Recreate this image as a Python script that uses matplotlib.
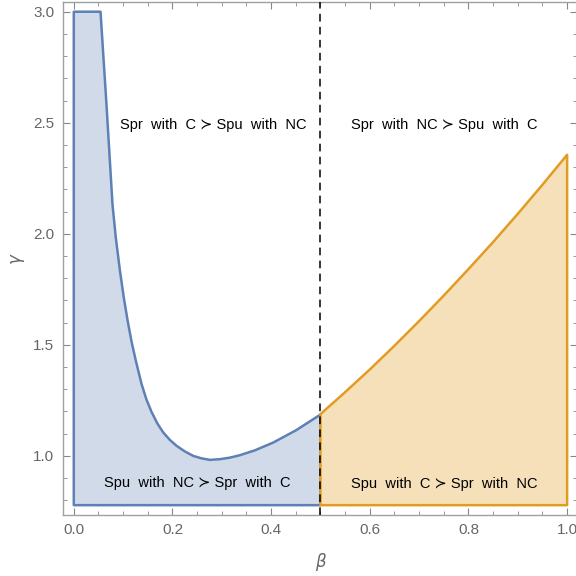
import matplotlib
matplotlib.use("Agg")
import matplotlib.pyplot as plt
from matplotlib.ticker import MultipleLocator, FormatStrFormatter

# data
gamma_floor = 0.778
gamma_cap = 3.0
beta_split = 0.5

blue_beta = [0.0542, 0.0663, 0.0785, 0.0852, 0.0933, 0.1014, 0.1095, 0.1176, 0.1258,
             0.1373, 0.1471, 0.1576, 0.1694, 0.1811, 0.1947, 0.2085, 0.2252, 0.2420,
             0.2586, 0.2759, 0.2961, 0.3164, 0.3367, 0.3671, 0.4043, 0.4503, 0.5000]
blue_gamma = [3.000, 2.581, 2.131, 1.982, 1.838, 1.712, 1.604, 1.509, 1.428,
              1.324, 1.255, 1.198, 1.146, 1.106, 1.072, 1.045, 1.020, 1.000,
              0.989, 0.982, 0.985, 0.992, 1.003, 1.025, 1.060, 1.115, 1.186]

orange_beta = [0.50, 0.55, 0.60, 0.65, 0.70, 0.75, 0.80, 0.85, 0.90, 0.95, 1.00]
orange_gamma = [1.188, 1.287, 1.389, 1.496, 1.607, 1.722, 1.841, 1.963, 2.090, 2.221, 2.356]

labels = ["Spr  with  C \u227b Spu  with  NC", "Spr  with  NC \u227b Spu  with  C",
          "Spu  with  NC \u227b Spr  with  C", "Spu  with  C \u227b Spr  with  NC"]
label_beta = [0.282, 0.751, 0.250, 0.751]
label_gamma = [2.49, 2.49, 0.878, 0.874]

blue_edge = "#5E81B5"
blue_fill = "#D0DAE9"
orange_edge = "#E19C24"
orange_fill = "#F5E0BA"
frame = "#A0A0A0"
tick_txt = "#666666"

fig = plt.figure(figsize=(5.76, 5.76), dpi=100)
ax = fig.add_axes([0.109, 0.106, 0.893, 0.891])

# blue region polygon
bx = [0.0, 0.0] + blue_beta + [beta_split]
by = [gamma_floor, gamma_cap] + blue_gamma + [gamma_floor]
ax.fill(bx, by, facecolor=blue_fill, edgecolor=blue_edge, linewidth=1.8,
        joinstyle="round", zorder=2)

# orange region polygon
ox = [beta_split] + orange_beta + [1.0]
oy = [gamma_floor] + orange_gamma + [gamma_floor]
ax.fill(ox, oy, facecolor=orange_fill, edgecolor=orange_edge, linewidth=1.8,
        joinstyle="round", zorder=2)

ax.axvline(beta_split, color="black", linestyle=(0, (5, 3.5)), linewidth=1.1, zorder=3)

for t, x, y in zip(labels, label_beta, label_gamma):
    ax.text(x, y, t, ha="center", va="center", fontsize=10.5,
            family=["Liberation Sans", "DejaVu Sans"], color="black", zorder=4)

ax.set_xlim(-0.0223, 1.0203)
ax.set_ylim(0.734, 3.045)

ax.xaxis.set_major_locator(MultipleLocator(0.2))
ax.xaxis.set_minor_locator(MultipleLocator(0.05))
ax.yaxis.set_major_locator(MultipleLocator(0.5))
ax.yaxis.set_minor_locator(MultipleLocator(0.1))
ax.xaxis.set_major_formatter(FormatStrFormatter("%.1f"))
ax.yaxis.set_major_formatter(FormatStrFormatter("%.1f"))

ax.tick_params(which="both", direction="in", top=True, right=True, color="#888888",
               labelcolor=tick_txt, labelsize=11)
ax.tick_params(which="major", length=5, width=0.8, pad=6)
ax.tick_params(which="minor", length=2.8, width=0.6)
for lab in ax.get_xticklabels() + ax.get_yticklabels():
    lab.set_family(["Liberation Sans", "DejaVu Sans"])

for s in ax.spines.values():
    s.set_color(frame)
    s.set_linewidth(1.0)

ax.set_xlabel("\u03b2", fontsize=12, color=tick_txt, style="italic", labelpad=11)
ax.set_ylabel("\u03b3", fontsize=12, color=tick_txt, style="italic", labelpad=7)

fig.savefig("out.png", dpi=100)
